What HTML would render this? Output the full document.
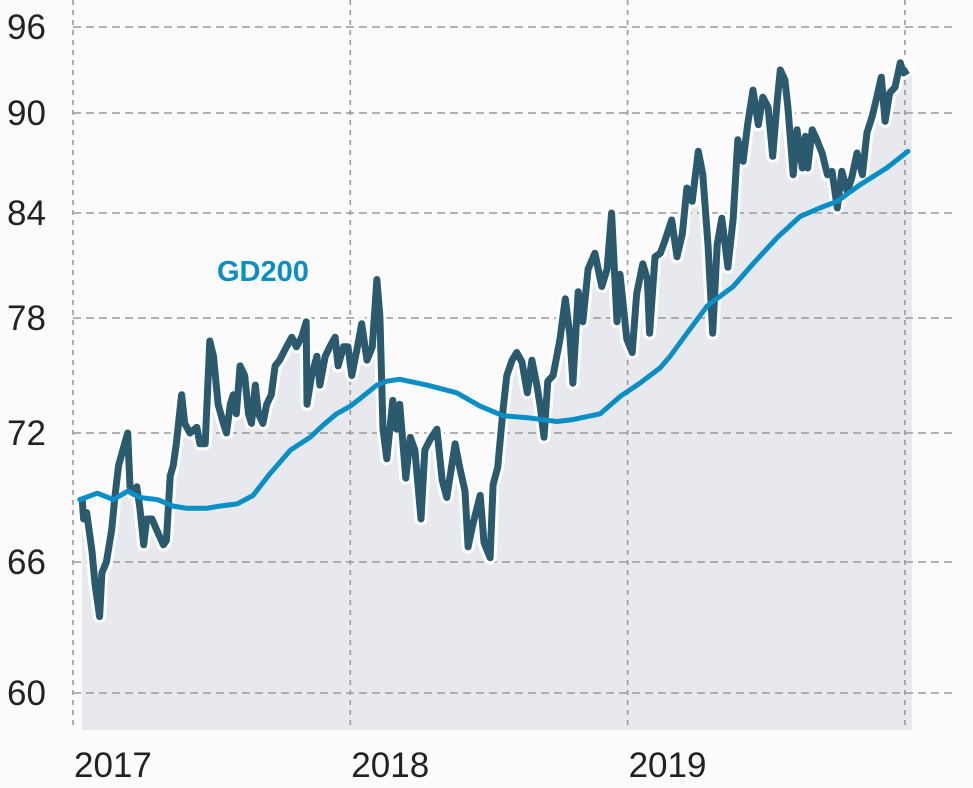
<!DOCTYPE html>
<html><head><meta charset="utf-8">
<style>
html,body{margin:0;padding:0;background:#fbfbfb;}
svg{display:block;font-family:"Liberation Sans",sans-serif;}
</style></head>
<body>
<svg id="chart" width="973" height="788" viewBox="0 0 973 788" xmlns="http://www.w3.org/2000/svg">
<rect x="0" y="0" width="973" height="788" fill="#fbfbfb"/>
<g id="fill-layer"></g><g id="grid-layer"></g><g id="line-layer"></g><g id="label-layer"></g>
</svg>
<script>
const yTicks = [60, 66, 72, 78, 84, 90, 96];
const xYears = ["2017", "2018", "2019", "2020"];
const priceDays = [12,14,18,25,29,35,38,44,51,55,60,64,72,75,79,84,88,93,97,104,110,119,123,128,132,136,143,147,154,163,167,174,180,185,191,198,202,207,211,215,220,226,231,235,240,244,250,255,261,266,272,281,288,294,301,307,308,314,321,325,332,338,345,349,356,362,367,374,380,387,394,400,404,408,413,421,426,430,438,444,450,458,463,470,479,486,492,503,509,516,520,526,536,541,549,553,559,566,571,578,584,591,598,604,611,615,620,625,632,641,648,654,658,665,671,678,687,696,703,709,716,720,729,736,742,750,756,759,766,773,779,788,795,802,808,815,823,829,836,842,848,854,862,869,875,882,888,895,902,908,915,921,927,931,937,941,948,953,960,964,967,973,979,986,993,999,1006,1012,1019,1025,1032,1039,1045,1052,1058,1064,1069,1075,1082,1089,1093,1099];
const priceValues = [69.0,68.0,68.3,66.5,65.0,63.5,65.5,66.0,67.5,69.0,70.5,71.0,72.0,69.5,69.2,69.5,68.5,66.8,68.0,68.0,67.5,66.8,67.0,70.0,70.5,71.5,74.0,72.5,72.0,72.3,71.5,71.5,76.8,76.0,73.5,72.5,72.0,73.5,74.0,73.0,75.5,75.0,73.0,72.5,74.5,73.0,72.5,73.5,74.0,75.5,75.8,76.5,77.0,76.5,77.0,77.8,73.5,75.0,76.0,74.5,76.0,76.5,77.0,75.5,76.5,76.5,75.0,76.4,77.7,75.8,76.5,80.2,78.1,72.2,70.8,73.7,72.2,73.5,69.9,71.8,71.2,68.0,71.2,71.7,72.2,69.8,69.0,71.5,70.4,69.3,66.7,67.7,69.1,66.9,66.2,69.6,70.4,73.2,75.0,75.8,76.2,75.7,74.1,75.8,74.4,73.4,71.8,74.7,75.0,76.9,79.1,77.1,74.6,79.5,77.8,80.8,81.7,79.8,80.8,84.0,77.8,80.5,76.9,76.2,79.4,81.1,80.2,77.2,81.5,81.7,82.4,83.6,81.5,82.8,85.5,84.7,87.7,86.3,82.1,77.2,82.2,83.7,80.9,83.7,88.4,87.1,89.3,91.6,89.3,91.1,90.4,87.4,90.9,93.0,92.3,90.4,86.3,89.0,86.7,88.6,86.7,89.0,88.4,87.6,86.3,86.5,84.3,86.5,85.3,86.1,87.6,86.3,88.8,89.8,91.1,92.5,89.5,91.4,91.8,93.5,92.8,93.0];
const gdDays = [9,32,53,72,88,111,132,150,176,193,216,237,259,286,312,329,347,365,378,400,413,430,466,505,536,566,598,637,658,694,720,746,773,786,808,835,869,895,927,957,983,1006,1036,1071,1099];
const gdValues = [68.9,69.2,68.9,69.3,69.0,68.9,68.6,68.5,68.5,68.6,68.7,69.1,70.1,71.2,71.8,72.4,73.0,73.4,73.8,74.5,74.7,74.8,74.5,74.1,73.4,72.9,72.8,72.6,72.7,73.0,73.9,74.6,75.4,76.0,77.2,78.7,79.8,81.1,82.6,83.8,84.3,84.7,85.7,86.7,87.7];

const NS = "http://www.w3.org/2000/svg";
const X0 = 73, PX_PER_YEAR = 277.3;
function xScale(day){ return X0 + day * PX_PER_YEAR / 365; }
const tickPx = [693, 562, 433, 318, 213, 113, 27];
function yScale(v){
  for (let i = 0; i < yTicks.length - 1; i++) {
    if (v <= yTicks[i+1] || i === yTicks.length - 2) {
      const t = (v - yTicks[i]) / (yTicks[i+1] - yTicks[i]);
      return tickPx[i] + t * (tickPx[i+1] - tickPx[i]);
    }
  }
}
function mk(tag, attrs, parent){
  const e = document.createElementNS(NS, tag);
  for (const k in attrs) e.setAttribute(k, attrs[k]);
  parent.appendChild(e); return e;
}
const fillL = document.getElementById('fill-layer');
const gridL = document.getElementById('grid-layer');
const lineL = document.getElementById('line-layer');
const labL = document.getElementById('label-layer');
const BOTTOM = 730;

let pts = priceDays.map((d,i)=>xScale(d).toFixed(1)+","+yScale(priceValues[i]).toFixed(1));
const lastX = xScale(priceDays[priceDays.length-1]) + 4;
const area = mk('path', {d: "M"+xScale(priceDays[0]).toFixed(1)+","+BOTTOM+" L"+pts.join(" L")+" L"+lastX.toFixed(1)+","+yScale(priceValues[priceValues.length-1]).toFixed(1)+" L"+lastX.toFixed(1)+","+BOTTOM+" Z", fill:"#e7e9ee"}, fillL);



yTicks.forEach(v=>{
  const y = yScale(v);
  const g = mk('line', {x1:73, x2:955, y1:y, y2:y, stroke:"#9a9a9a", "stroke-width":1.6, "stroke-dasharray":"8,5"}, gridL);
  
  
  const t = mk('text', {x:7, y:y+12, "font-size":35, fill:"#222"}, labL);
  t.textContent = v;
  
  
});
xYears.forEach((yr,i)=>{
  const x = xScale(i*365);
  const g = mk('line', {x1:x, x2:x, y1:0, y2:BOTTOM, stroke:"#9a9a9a", "stroke-width":1.6, "stroke-dasharray":"5,5"}, gridL);
  
  
  if (i < 3) {
    const t = mk('text', {x:x+1, y:777, "font-size":35, fill:"#222"}, labL);
    t.textContent = yr;
    
    
  }
});

const pd = "M"+pts.join(" L");
const halo = mk('path', {d:pd, fill:"none", stroke:"#ffffff", "stroke-width":13, "stroke-linejoin":"round", "stroke-linecap":"round"}, lineL);


const pl = mk('path', {d:pd, fill:"none", stroke:"#2b5a6f", "stroke-width":7, "stroke-linejoin":"round"}, lineL);



const gpts = gdDays.map((d,i)=>xScale(d).toFixed(1)+","+yScale(gdValues[i]).toFixed(1));
const gl = mk('path', {d:"M"+gpts.join(" L"), fill:"none", stroke:"#0a8ec6", "stroke-width":5, "stroke-linejoin":"round", "stroke-linecap":"round"}, lineL);



const gt = mk('text', {x:217, y:281, "font-size":29, "font-weight":"bold", fill:"#0a8ec6"}, labL);
gt.textContent = "GD200";


</script>
</body></html>
